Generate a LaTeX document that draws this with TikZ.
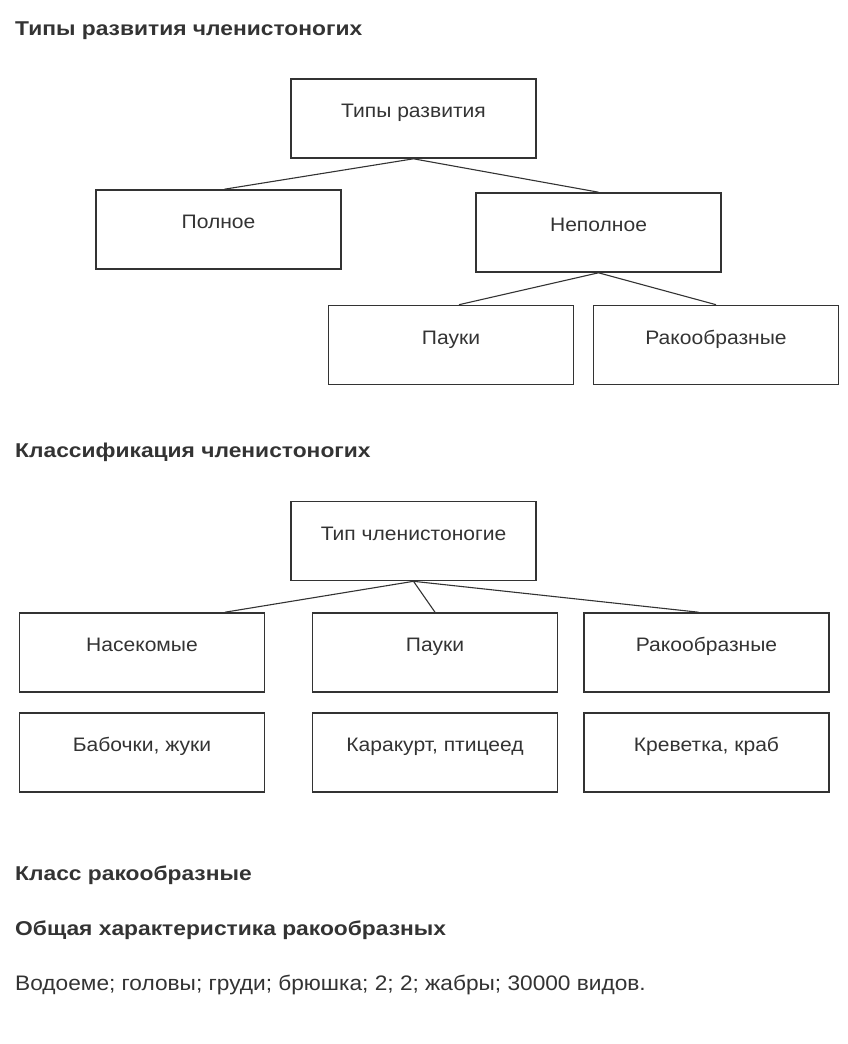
\documentclass[tikz,border=0pt]{standalone}
\usepackage{fontspec}
\setmainfont{Liberation Sans}[FakeStretch=1.08]
\newfontfamily\headFont{Liberation Sans}[FakeStretch=1.14]
\usetikzlibrary{calc,positioning}
\definecolor{ink}{HTML}{333333}
\tikzset{
  treeLink/.style={draw=ink, line width=1.1pt},
  sectionTitle/.style={anchor=base west, inner sep=0pt, text=ink, font=\headFont\bfseries\fontsize{20}{24}\selectfont},
  plainText/.style={anchor=base west, inner sep=0pt, text=ink, font=\fontsize{21}{25}\selectfont}
}

\begin{document}
\begin{tikzpicture}[x=1pt, y=-1pt,
        box/.style={draw=ink, line width=1.6pt, minimum width=245pt, minimum height=79pt, inner sep=0pt,
          text height=12pt, text depth=14pt, text=ink, font=\fontsize{19.5}{23}\selectfont}
      ]
      \useasboundingbox (0,0) rectangle (848,1044);
      % types of development
      \node[sectionTitle] (titleTypes) at (15,35.5) {Типы развития членистоногих};
      \node[box] (types) at (413.5,118.5) {Типы развития};
      \node[box] (full) at (218.5,229.5) {Полное};
      \node[box] (partial) at (598.5,232.5) {Неполное};
      \node[box] (spiders) at (451,345) {Пауки};
      \node[box] (crust) at (716,345) {Ракообразные};
      \draw[treeLink] (types.south) -- ([xshift=6pt]full.north);
      \draw[treeLink] (types.south) -- (partial.north);
      \draw[treeLink] (partial.south) -- ([xshift=8pt]spiders.north);
      \draw[treeLink] (partial.south) -- (crust.north);
      % classification
      \node[sectionTitle] (titleClass) at (15,457.5) {Классификация членистоногих};
      \node[box] (phylum) at (413.5,541) {Тип членистоногие};
      \node[box] (insects) at (142,652.5) {Насекомые};
      \node[box] (spidersB) at (435,652.5) {Пауки};
      \node[box] (crustB) at (706.5,652.5) {Ракообразные};
      \node[box] (insectsEx) at (142,752.5) {Бабочки, жуки};
      \node[box] (spidersEx) at (435,752.5) {Каракурт, птицеед};
      \node[box] (crustEx) at (706.5,752.5) {Креветка, краб};
      \draw[treeLink] (phylum.south) -- ([xshift=83pt]insects.north);
      \draw[treeLink] (phylum.south) -- (spidersB.north);
      \draw[treeLink] (phylum.south) -- ([xshift=-8pt]crustB.north);
      % crustaceans
      \node[sectionTitle] (titleCrust) at (15,880.5) {Класс ракообразные};
      \node[sectionTitle] (titleTraits) at (15,935.5) {Общая характеристика ракообразных};
      \node[plainText] (traits) at (15,990) {Водоеме; головы; груди; брюшка; 2; 2; жабры; 30000 видов.};
    \end{tikzpicture}
\end{document}
